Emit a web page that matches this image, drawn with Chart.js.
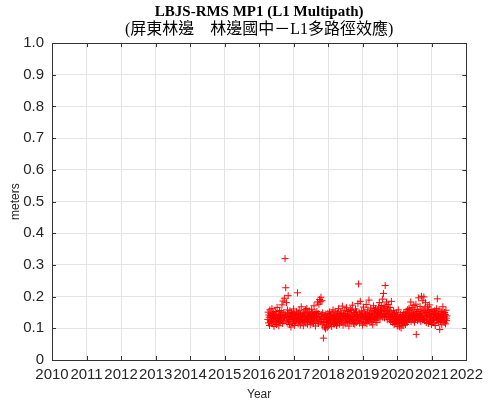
<!DOCTYPE html>
<html>
<head>
<meta charset="utf-8">
<script src="https://cdn.jsdelivr.net/npm/chart.js@4"></script>
<style>
  html, body { margin: 0; padding: 0; background: #fff; }
  #wrap { width: 489px; height: 405px; }
</style>
</head>
<body>
<div id="wrap"><canvas id="mpChart" width="489" height="405"></canvas></div>
<script>
// chart text
const titleText = 'LBJS-RMS MP1 (L1 Multipath)';
const subtitleText = '(屏東林邊\u3000林邊國中－L1多路徑效應)';

// axis ticks
const yearTicks = [2010, 2011, 2012, 2013, 2014, 2015, 2016, 2017, 2018, 2019, 2020, 2021, 2022];
const meterTicks = [0, 0.1, 0.2, 0.3, 0.4, 0.5, 0.6, 0.7, 0.8, 0.9, 1.0];

// sampling: first epoch (decimal year) and spacing between samples
const firstEpoch = 2016.25;
const epochStep = 0.01;

// RMS MP1 values (meters)
const mp1Values = [
  0.128,0.151,0.117,0.142,0.135,0.109,0.158,0.124,0.139,0.146,
  0.121,0.133,0.162,0.114,0.140,0.127,0.149,0.131,0.106,0.144,
  0.137,0.119,0.153,0.126,0.141,0.112,0.134,0.166,0.129,0.122,
  0.145,0.131,0.108,0.139,0.156,0.125,0.118,0.143,0.136,0.152,
  0.127,0.174,0.141,0.115,0.186,0.132,0.149,0.123,0.195,0.138,
  0.320,0.143,0.228,0.126,0.181,0.139,0.117,0.158,0.134,0.203,
  0.121,0.147,0.133,0.112,0.155,0.128,0.141,0.104,0.137,0.150,
  0.129,0.116,0.144,0.138,0.123,0.161,0.132,0.109,0.146,0.127,
  0.140,0.118,0.135,0.152,0.126,0.143,0.212,0.131,0.114,0.148,
  0.133,0.157,0.122,0.139,0.110,0.145,0.128,0.168,0.136,0.119,
  0.142,0.125,0.137,0.108,0.151,0.130,0.146,0.121,0.134,0.159,
  0.117,0.140,0.128,0.163,0.135,0.113,0.149,0.126,0.141,0.131,
  0.154,0.122,0.138,0.111,0.144,0.133,0.127,0.160,0.119,0.147,
  0.130,0.145,0.115,0.139,0.171,0.124,0.136,0.150,0.107,0.142,
  0.126,0.138,0.153,0.120,0.183,0.134,0.147,0.116,0.176,0.129,
  0.191,0.137,0.184,0.122,0.198,0.143,0.128,0.187,0.111,0.149,
  0.132,0.069,0.118,0.141,0.104,0.127,0.136,0.098,0.145,0.121,
  0.113,0.134,0.102,0.128,0.147,0.119,0.108,0.139,0.124,0.152,
  0.130,0.115,0.143,0.125,0.137,0.106,0.149,0.133,0.120,0.158,
  0.127,0.141,0.112,0.136,0.124,0.154,0.118,0.131,0.145,0.109,
  0.139,0.122,0.148,0.116,0.135,0.162,0.128,0.143,0.113,0.137,
  0.125,0.151,0.132,0.119,0.146,0.129,0.170,0.136,0.110,0.141,
  0.147,0.123,0.138,0.157,0.114,0.132,0.144,0.126,0.165,0.131,
  0.118,0.140,0.129,0.153,0.135,0.107,0.148,0.122,0.137,0.160,
  0.134,0.120,0.156,0.128,0.142,0.173,0.125,0.139,0.115,0.150,
  0.127,0.145,0.113,0.137,0.161,0.130,0.118,0.152,0.139,0.124,
  0.141,0.178,0.126,0.240,0.135,0.149,0.116,0.132,0.185,0.144,
  0.122,0.138,0.155,0.129,0.110,0.146,0.134,0.167,0.120,0.140,
  0.136,0.152,0.117,0.143,0.128,0.175,0.133,0.114,0.149,0.131,
  0.158,0.125,0.140,0.189,0.132,0.147,0.119,0.136,0.164,0.128,
  0.143,0.120,0.154,0.134,0.111,0.148,0.171,0.127,0.139,0.156,
  0.130,0.145,0.162,0.124,0.151,0.137,0.118,0.158,0.142,0.133,
  0.150,0.167,0.138,0.181,0.146,0.129,0.160,0.153,0.140,0.172,
  0.157,0.143,0.192,0.135,0.164,0.210,0.148,0.170,0.133,0.155,
  0.235,0.146,0.168,0.138,0.183,0.152,0.127,0.161,0.144,0.175,
  0.139,0.156,0.128,0.147,0.166,0.134,0.121,0.151,0.185,0.137,
  0.126,0.143,0.118,0.136,0.155,0.129,0.112,0.148,0.133,0.122,
  0.138,0.115,0.131,0.149,0.124,0.107,0.140,0.127,0.158,0.119,
  0.128,0.105,0.135,0.117,0.144,0.123,0.101,0.132,0.114,0.141,
  0.120,0.137,0.109,0.128,0.150,0.116,0.133,0.125,0.146,0.112,
  0.136,0.152,0.124,0.141,0.118,0.159,0.130,0.145,0.127,0.163,
  0.142,0.129,0.157,0.135,0.183,0.121,0.148,0.138,0.166,0.132,
  0.151,0.126,0.144,0.172,0.137,0.119,0.158,0.140,0.130,0.176,
  0.081,0.147,0.133,0.160,0.124,0.153,0.139,0.196,0.128,0.145,
  0.134,0.169,0.142,0.121,0.155,0.201,0.137,0.148,0.127,0.187,
  0.158,0.130,0.199,0.145,0.124,0.164,0.139,0.181,0.152,0.118,
  0.136,0.150,0.127,0.168,0.141,0.115,0.156,0.133,0.174,0.122,
  0.144,0.121,0.138,0.159,0.112,0.147,0.130,0.125,0.153,0.136,
  0.128,0.143,0.117,0.155,0.134,0.109,0.149,0.138,0.124,0.162,
  0.140,0.193,0.126,0.147,0.118,0.135,0.158,0.131,0.096,0.144,
  0.122,0.137,0.153,0.129,0.111,0.146,0.133,0.168,0.125,0.141,
  0.136,0.119,0.150,0.127,0.143,0.114,0.157,0.132,0.124,0.139
];

const points = mp1Values.map((v, i) => ({
    x: +(firstEpoch + i * epochStep).toFixed(2),
    y: v
}));

const AXIS_COLOR = '#333333';
const GRID_COLOR = '#e4e4e4';

// box round the plot plus the short inner tick marks
const boxPlugin = {
    id: 'box',
    afterDraw(chart) {
        const { ctx, chartArea: a, scales } = chart;
        ctx.save();
        ctx.strokeStyle = AXIS_COLOR;
        ctx.lineWidth = 1;
        ctx.beginPath();
        scales.x.ticks.forEach(t => {
            const px = Math.round(scales.x.getPixelForValue(t.value)) + 0.5;
            ctx.moveTo(px, a.bottom); ctx.lineTo(px, a.bottom - 4);
            ctx.moveTo(px, a.top); ctx.lineTo(px, a.top + 4);
        });
        scales.y.ticks.forEach(t => {
            const py = Math.round(scales.y.getPixelForValue(t.value)) + 0.5;
            ctx.moveTo(a.left, py); ctx.lineTo(a.left + 4, py);
            ctx.moveTo(a.right, py); ctx.lineTo(a.right - 4, py);
        });
        ctx.stroke();
        ctx.strokeRect(Math.round(a.left) + 0.5, Math.round(a.top) + 0.5,
            Math.round(a.right - a.left), Math.round(a.bottom - a.top));
        ctx.restore();
    }
};

new Chart(document.getElementById('mpChart'), {
    type: 'scatter',
    data: {
        datasets: [{
            label: 'MP1',
            data: points,
            pointStyle: 'cross',
            pointRadius: 3.5,
            pointHoverRadius: 3.5,
            borderWidth: 1,
            borderColor: 'rgb(255, 0, 0)',
            backgroundColor: 'rgb(255, 0, 0)'
        }]
    },
    options: {
        responsive: false,
        animation: false,
        devicePixelRatio: 1,
        layout: { padding: { left: 3, right: 18, top: 0, bottom: 2 } },
        plugins: {
            legend: { display: false },
            tooltip: { enabled: false },
            title: {
                display: true,
                text: titleText,
                fullSize: false,
                color: '#000',
                font: { family: '"Liberation Serif", "Times New Roman", serif', size: 15, weight: 'bold', lineHeight: 1.1 },
                padding: { top: 4, bottom: 0 }
            },
            subtitle: {
                display: true,
                text: subtitleText,
                fullSize: false,
                color: '#000',
                font: { family: '"Liberation Serif", "Noto Sans CJK TC", serif', size: 16, lineHeight: 1.1 },
                padding: { top: 0, bottom: 5 }
            }
        },
        scales: {
            x: {
                type: 'linear',
                min: yearTicks[0],
                max: yearTicks[yearTicks.length - 1],
                afterBuildTicks: s => { s.ticks = yearTicks.map(v => ({ value: v })); },
                afterFit: s => { s.height = 43; },
                grid: { color: GRID_COLOR, drawTicks: false },
                border: { display: false },
                ticks: {
                    color: '#262626',
                    padding: 6,
                    maxRotation: 0,
                    autoSkip: false,
                    font: { family: '"Liberation Sans", Arial, sans-serif', size: 15 },
                    callback: v => String(v)
                },
                title: {
                    display: true,
                    text: 'Year',
                    color: '#262626',
                    font: { family: '"Liberation Sans", Arial, sans-serif', size: 12 },
                    padding: { top: 0, bottom: 1 }
                }
            },
            y: {
                min: 0,
                max: 1,
                afterBuildTicks: s => { s.ticks = meterTicks.map(v => ({ value: v })); },
                afterFit: s => { s.width = 49; },
                grid: { color: GRID_COLOR, drawTicks: false },
                border: { display: false },
                ticks: {
                    color: '#262626',
                    padding: 8,
                    font: { family: '"Liberation Sans", Arial, sans-serif', size: 15 },
                    callback: v => (v === 0 ? '0' : v.toFixed(1))
                },
                title: {
                    display: true,
                    text: 'meters',
                    color: '#262626',
                    font: { family: '"Liberation Sans", Arial, sans-serif', size: 12 },
                    padding: { top: 5, bottom: 0 }
                }
            }
        }
    },
    plugins: [boxPlugin]
});
</script>
</body>
</html>
